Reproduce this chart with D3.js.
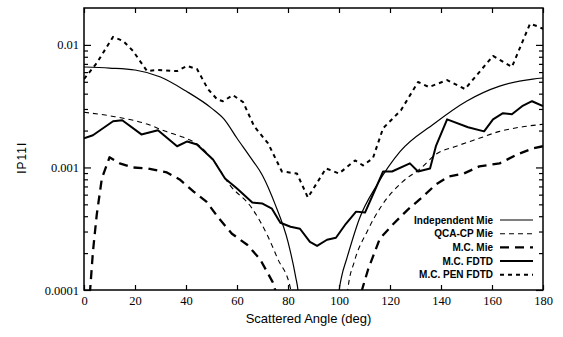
<!DOCTYPE html>
<html>
<head>
<meta charset="utf-8">
<script src="https://cdn.jsdelivr.net/npm/d3@7"></script>
<style>
  html, body { margin: 0; padding: 0; background: #fff; }
  svg { display: block; }
  .tick text { font-family: "Liberation Serif", "Times New Roman", serif; }
</style>
</head>
<body>
<div id="chart"></div>
<script>
// (angle in deg, |P11| on a log axis)
const INDEP_ANG = [0, 10, 20, 30, 40, 50, 55, 60, 65, 70, 75, 80, 83, 84, 85,
  99, 100, 101, 103, 108, 115, 124, 137, 150, 163, 176, 180]
const INDEP_VAL = [0.0066, 0.00647, 0.00624, 0.00547, 0.0042, 0.00305, 0.00247, 0.00173, 0.00123, 0.00086, 0.000497, 0.000247, 0.000128, 0.0000963, 0.00005,
  0.00005, 0.0000963, 0.000128, 0.000179, 0.000382, 0.000726, 0.00135, 0.00225, 0.00347, 0.00461, 0.00526, 0.00537]

const QCA_ANG = [0, 11, 25, 32, 39, 44, 51, 57, 66, 72, 76, 81, 82.5,
  102.5, 103.5, 106, 111, 117, 125, 132, 138, 146, 155, 163, 171, 180]
const QCA_VAL = [0.00282, 0.00262, 0.00225, 0.00197, 0.00176, 0.00157, 0.00112, 0.000726, 0.000461, 0.000277, 0.000179, 0.000102, 0.00006,
  0.00006, 0.000102, 0.00017, 0.000299, 0.000497, 0.000767, 0.000982, 0.00128, 0.00149, 0.00173, 0.00197, 0.00213, 0.00225]

const MCMIE_ANG = [2, 2.4, 3.5, 5, 7, 10, 14, 19, 25, 32.5, 37.5, 43, 48, 53, 58, 64, 69, 74, 75, 76,
  108, 109, 111.5, 116, 121, 127, 132, 138, 143, 149, 155, 163, 170, 176, 180]
const MCMIE_VAL = [0.00007, 0.0001, 0.000205, 0.000412, 0.000813, 0.00121, 0.00108, 0.001, 0.000982, 0.00091, 0.000798, 0.000636, 0.000526, 0.000382, 0.000288, 0.000234, 0.000179, 0.000116, 0.0001, 0.00007,
  0.00007, 0.0001, 0.000149, 0.000262, 0.000341, 0.000453, 0.000557, 0.000726, 0.000843, 0.000893, 0.00102, 0.00108, 0.00128, 0.00143, 0.00149]

const FDTD_ANG = [0, 3.5, 11.4, 15, 22.5, 29, 36.5, 40.5, 44.3, 46.7, 50.6, 55.3, 60, 66, 70, 73.7, 77, 81, 84.7, 88.6,
  91.4, 95.3, 98.8, 102.7, 106.7, 110.2, 117.3, 120.8, 127.8, 131, 135.7, 138, 142.4, 150.6, 156.9, 160.4, 164.3, 167.8, 171.8, 175.7, 180]
const FDTD_VAL = [0.00173, 0.00183, 0.00238, 0.00243, 0.00186, 0.00201, 0.00149, 0.00163, 0.00154, 0.00138, 0.00116, 0.000813, 0.000673, 0.000517, 0.000507, 0.000461, 0.000354, 0.000328, 0.000316, 0.000247,
  0.000229, 0.000257, 0.000267, 0.000347, 0.000436, 0.000428, 0.000927, 0.000927, 0.00108, 0.000927, 0.000982, 0.00149, 0.00247, 0.00213, 0.00197, 0.00247, 0.00277, 0.00272, 0.00316, 0.00347, 0.00316]

const PEN_ANG = [0, 5, 11.4, 15.3, 19.2, 24.7, 28.6, 36.5, 40.4, 44.3, 48.6, 52.2, 54.5, 58.4, 62.4, 66.7, 72.2, 77.6, 83.5, 87.8,
  94.9, 100, 106.3, 109.4, 113.3, 117.3, 124.3, 131, 135.3, 142.4, 149.4, 160.4, 167.8, 174.9, 178.4, 180]
const PEN_VAL = [0.00526, 0.00711, 0.01163, 0.01079, 0.00893, 0.00612, 0.00624, 0.00612, 0.00673, 0.00636, 0.00436, 0.0036, 0.00347, 0.00389, 0.00341, 0.00217, 0.00157, 0.000927, 0.000893, 0.000568,
  0.000982, 0.000893, 0.00114, 0.00104, 0.00119, 0.00209, 0.00293, 0.00498, 0.00453, 0.00516, 0.00436, 0.00813, 0.0066, 0.01486, 0.01406, 0.0135]

const X_TICKS = [0, 20, 40, 60, 80, 100, 120, 140, 160, 180]
const Y_MAJOR = [0.0001, 0.001, 0.01]
const Y_LABELS = ['0.0001', '0.001', '0.01']

const SERIES = [
  { name: 'Independent Mie', ang: INDEP_ANG, val: INDEP_VAL, width: 1.2, dash: null, smooth: true },
  { name: 'QCA-CP Mie', ang: QCA_ANG, val: QCA_VAL, width: 1.1, dash: '5,4', smooth: true },
  { name: 'M.C. Mie', ang: MCMIE_ANG, val: MCMIE_VAL, width: 2.3, dash: '9,6', smooth: false },
  { name: 'M.C. FDTD', ang: FDTD_ANG, val: FDTD_VAL, width: 2, dash: null, smooth: false },
  { name: 'M.C. PEN FDTD', ang: PEN_ANG, val: PEN_VAL, width: 2, dash: '4,4', smooth: false },
]

const W = 563, H = 337
const M = { top: 8, right: 20, bottom: 47, left: 84 }
const innerW = W - M.left - M.right
const innerH = H - M.top - M.bottom
const SANS = '"Liberation Sans", Arial, sans-serif'

const svg = d3.select('#chart').append('svg')
  .attr('width', W).attr('height', H)

const x = d3.scaleLinear().domain([0, 180]).range([0, innerW])
const y = d3.scaleLog().domain([0.0001, 0.02]).range([innerH, 0])

const g = svg.append('g').attr('transform', `translate(${M.left},${M.top})`)

svg.append('defs').append('clipPath').attr('id', 'clip')
  .append('rect').attr('width', innerW).attr('height', innerH)

// log minor ticks: 2..9 x each decade, inside the domain
const yMinor = []
for (const d of [0.0001, 0.001, 0.01]) {
  for (let k = 2; k <= 9; k++) {
    const v = k * d
    if (v < 0.02) yMinor.push(v)
  }
}

const tickStyle = sel => sel
  .attr('font-family', '"Liberation Serif", "Times New Roman", serif')
  .call(s => s.select('.domain').remove())
  .call(s => s.selectAll('line').attr('stroke', '#000').attr('stroke-width', 1.2))
  .call(s => s.selectAll('text').attr('fill', '#000').attr('font-size', 12.5))

g.append('g').attr('transform', `translate(0,${innerH})`)
  .call(d3.axisBottom(x).tickValues(X_TICKS).tickFormat(d3.format('d')).tickSize(-5).tickPadding(6))
  .call(tickStyle)
g.append('g')
  .call(d3.axisTop(x).tickValues(X_TICKS).tickFormat('').tickSize(-5))
  .call(tickStyle)

g.append('g')
  .call(d3.axisLeft(y).tickValues(Y_MAJOR).tickFormat((d, i) => Y_LABELS[i]).tickSize(-7).tickPadding(5))
  .call(tickStyle)
g.append('g')
  .call(d3.axisLeft(y).tickValues(yMinor).tickFormat('').tickSize(-4))
  .call(tickStyle)
g.append('g').attr('transform', `translate(${innerW},0)`)
  .call(d3.axisRight(y).tickValues(Y_MAJOR).tickFormat('').tickSize(-7))
  .call(tickStyle)
g.append('g').attr('transform', `translate(${innerW},0)`)
  .call(d3.axisRight(y).tickValues(yMinor).tickFormat('').tickSize(-4))
  .call(tickStyle)

// frame
g.append('rect')
  .attr('width', innerW).attr('height', innerH)
  .attr('fill', 'none').attr('stroke', '#000').attr('stroke-width', 1.5)

const plot = g.append('g').attr('clip-path', 'url(#clip)')
for (const s of SERIES) {
  const pts = s.ang.map((a, i) => [a, s.val[i]])
  const line = d3.line()
    .x(d => x(d[0]))
    .y(d => y(d[1]))
    .curve(s.smooth ? d3.curveMonotoneX : d3.curveLinear)
  plot.append('path')
    .datum(pts)
    .attr('d', line)
    .attr('fill', 'none')
    .attr('stroke', '#000')
    .attr('stroke-width', s.width)
    .attr('stroke-dasharray', s.dash)
    .attr('stroke-linejoin', 'round')
}

// legend, bottom right inside the frame
const legend = g.append('g').attr('transform', `translate(${x(180) - 43},${220 - M.top})`)
SERIES.forEach((s, i) => {
  const row = legend.append('g').attr('transform', `translate(0,${i * 13.7})`)
  row.append('text')
    .attr('x', -7).attr('y', 0).attr('dy', '0.35em')
    .attr('text-anchor', 'end')
    .attr('font-family', SANS)
    .attr('font-size', 10).attr('font-weight', 'bold')
    .text(s.name)
  row.append('line')
    .attr('x1', 0).attr('x2', 33).attr('y1', 0).attr('y2', 0)
    .attr('stroke', '#000')
    .attr('stroke-width', s.width)
    .attr('stroke-dasharray', s.dash)
})

svg.append('text')
  .attr('x', M.left + x(90) - 5).attr('y', 323)
  .attr('text-anchor', 'middle')
  .attr('font-family', SANS)
  .attr('font-size', 13)
  .text('Scattered Angle (deg)')

svg.append('text')
  .attr('transform', `translate(26,${M.top + y(0.0012)}) rotate(-90)`)
  .attr('text-anchor', 'middle')
  .attr('font-family', SANS)
  .attr('font-size', 12)
  .attr('letter-spacing', 1)
  .text('IP11I')
</script>
</body>
</html>
